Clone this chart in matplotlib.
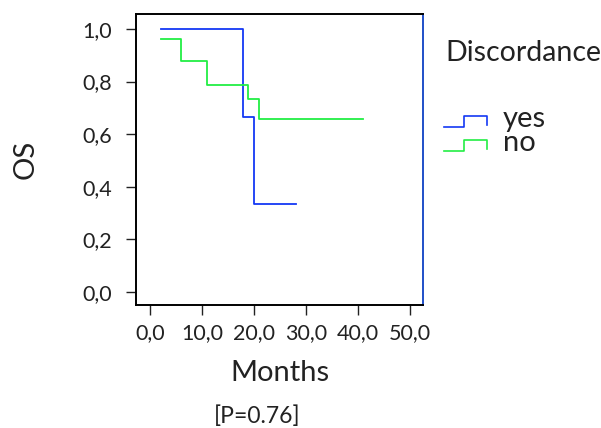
import numpy as np
import matplotlib
matplotlib.use("Agg")
import matplotlib.pyplot as plt
from matplotlib.legend_handler import HandlerBase
from matplotlib.lines import Line2D
from matplotlib.ticker import FuncFormatter

plt.rcParams['font.family'] = ['Lato', 'DejaVu Sans']

# Kaplan-Meier steps
yes_t = [2.0, 17.8, 20.0, 28.1]
yes_s = [1.0, 0.667, 0.333, 0.333]
no_t = [2.0, 5.9, 10.9, 18.9, 21.0, 41.0]
no_s = [0.963, 0.88, 0.787, 0.732, 0.658, 0.658]

groups = ['yes', 'no']
colors = ['#1438f4', '#22ee44']

x_ticks = [0, 10, 20, 30, 40, 50]
y_ticks = [0.0, 0.2, 0.4, 0.6, 0.8, 1.0]


class StepHandler(HandlerBase):
    def create_artists(self, legend, orig, xd, yd, w, h, fs, trans):
        lo = yd + 0.0 * h
        hi = yd + 0.55 * h
        xs = [xd, xd + 0.47 * w, xd + 0.47 * w, xd + w, xd + w]
        ys = [lo, lo, hi, hi, lo + 0.1 * h]
        ln = Line2D(xs, ys, color=orig.get_color(), lw=1.2, transform=trans)
        return [ln]


fig = plt.figure(figsize=(6.01, 4.28), dpi=100)
ax = fig.add_axes([0.2263, 0.2874, 0.7038 - 0.2263, 0.9673 - 0.2874])

lines = []
for t, s, c, g in zip([yes_t, no_t], [yes_s, no_s], colors, groups):
    ln, = ax.step(t, s, where='post', color=c, lw=1.3, label=g)
    lines.append(ln)

ax.set_xlim(-2.76, 52.6)
ax.set_ylim(-0.05, 1.057)
ax.set_xticks(x_ticks)
ax.set_yticks(y_ticks)
comma = FuncFormatter(lambda v, p: f"{v:.1f}".replace('.', ','))
ax.xaxis.set_major_formatter(comma)
ax.yaxis.set_major_formatter(comma)
ax.tick_params(axis='both', labelsize=15.5, colors='#222222', length=7,
               width=1.0)
ax.tick_params(axis='y', pad=10)
ax.tick_params(axis='x', pad=6)

for side in ['left', 'top', 'bottom']:
    ax.spines[side].set_color('black')
    ax.spines[side].set_linewidth(1.4)
ax.spines['right'].set_color('#1f4fc8')
ax.spines['right'].set_linewidth(1.4)

ax.set_xlabel('Months', fontsize=21, color='#222222', labelpad=12)
ax.set_ylabel('OS', fontsize=21, color='#222222', labelpad=32)

fig.text(0.4285, 1 - 416 / 428, '[P=0.76]', fontsize=16.5, color='#222222',
         ha='center', va='center')

fig.text(445 / 601, 1 - 53 / 428, 'Discordance', fontsize=20.5,
         color='#222222', ha='left', va='center')

fig.legend(lines, groups, handler_map={Line2D: StepHandler()},
           loc='upper left', bbox_to_anchor=(424 / 601, 1 - 86 / 428),
           frameon=False, fontsize=21, handlelength=1.45, handletextpad=0.55,
           labelspacing=-0.07, borderpad=0.2, labelcolor='#222222')

fig.savefig('out.png', dpi=100)
